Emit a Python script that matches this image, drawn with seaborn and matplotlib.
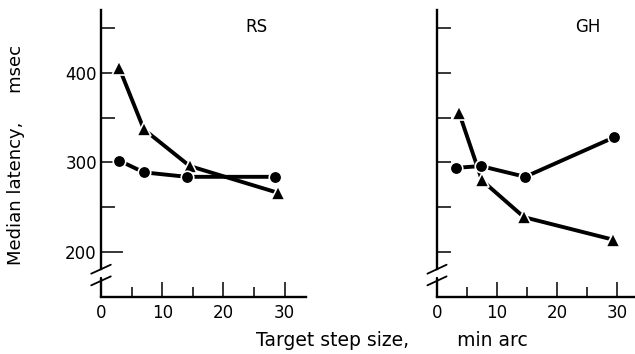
import numpy as np
import pandas as pd
import matplotlib
matplotlib.use('Agg')
import matplotlib.pyplot as plt
import seaborn as sns

sns.set_style('ticks')
plt.rcParams['font.family'] = ['DejaVu Sans']
plt.rcParams['text.color'] = 'black'
plt.rcParams['xtick.color'] = 'black'
plt.rcParams['ytick.color'] = 'black'
plt.rcParams['axes.edgecolor'] = 'black'

# data (step size in min arc, latency in msec)
rs_tri_x = [3, 7, 14.5, 29]
rs_tri_y = [405, 337, 296, 266]
rs_dot_x = [3, 7, 14, 28.5]
rs_dot_y = [302, 289, 284, 284]

gh_tri_x = [3.7, 7.5, 14.5, 29.3]
gh_tri_y = [355, 280, 239, 214]
gh_dot_x = [3.2, 7.3, 14.7, 29.5]
gh_dot_y = [294, 296, 284, 328]

fig = plt.figure(figsize=(6.35, 3.54), dpi=100)
ax1 = fig.add_axes([101/635, 1 - 297/354, 205/635, 287/354])
ax2 = fig.add_axes([437/635, 1 - 297/354, 198/635, 287/354])


def panel(ax, tx, ty, dx, dy, title, labels):
    sns.lineplot(x=tx, y=ty, ax=ax, color='black', lw=2.8, marker='^', ms=10.5,
                 mec='white', mew=1.2, clip_on=False)
    sns.lineplot(x=dx, y=dy, ax=ax, color='black', lw=2.8, marker='o', ms=9,
                 mec='white', mew=1.2, clip_on=False)
    ax.set_xlim(0, 33.5 if labels else 33)
    ax.set_ylim(150, 470)
    ax.spines['top'].set_visible(False)
    ax.spines['right'].set_visible(False)
    ax.spines['left'].set_linewidth(1.7)
    ax.spines['bottom'].set_linewidth(1.7)
    ax.spines['left'].set_bounds(181, 470)
    # short stub below the axis break
    ax.plot([0, 0], [150, 171], color='black', lw=1.7, clip_on=False)
    ax.plot([-1.6, 1.6], [176, 186], color='black', lw=1.3, clip_on=False)
    ax.plot([-1.6, 1.6], [163, 173], color='black', lw=1.3, clip_on=False)

    ax.set_xticks([0, 10, 20, 30])
    ax.set_xticks([5, 15, 25], minor=True)
    ax.tick_params(axis='x', which='major', direction='in', length=11, width=1.1,
                   labelsize=12, pad=5)
    ax.tick_params(axis='x', which='minor', direction='in', length=7, width=1.1)
    if labels:
        ax.set_yticks([200, 300, 400])
        ax.set_yticks([250, 350, 450], minor=True)
        ax.tick_params(axis='y', which='major', direction='in', length=16, width=1.1,
                       labelsize=12, pad=3)
        ax.tick_params(axis='y', which='minor', direction='in', length=10, width=1.1)
    else:
        ax.set_yticks([200, 250, 300, 350, 400, 450])
        ax.set_yticklabels([])
        ax.tick_params(axis='y', direction='in', length=10, width=1.1)
    ax.set_xlabel('')
    ax.set_ylabel('')
    ax.text(0.76, 0.94, title, transform=ax.transAxes, fontsize=12,
            ha='center', va='center')


panel(ax1, rs_tri_x, rs_tri_y, rs_dot_x, rs_dot_y, 'RS', True)
panel(ax2, gh_tri_x, gh_tri_y, gh_dot_x, gh_dot_y, 'GH', False)

fig.text(16/635, 1 - 155/354, 'Median latency,     msec', rotation=90,
         ha='center', va='center', fontsize=13)
fig.text(392/635, 1 - 340/354, 'Target step size,        min arc',
         ha='center', va='center', fontsize=13.5)

fig.savefig('out.png', dpi=100)
